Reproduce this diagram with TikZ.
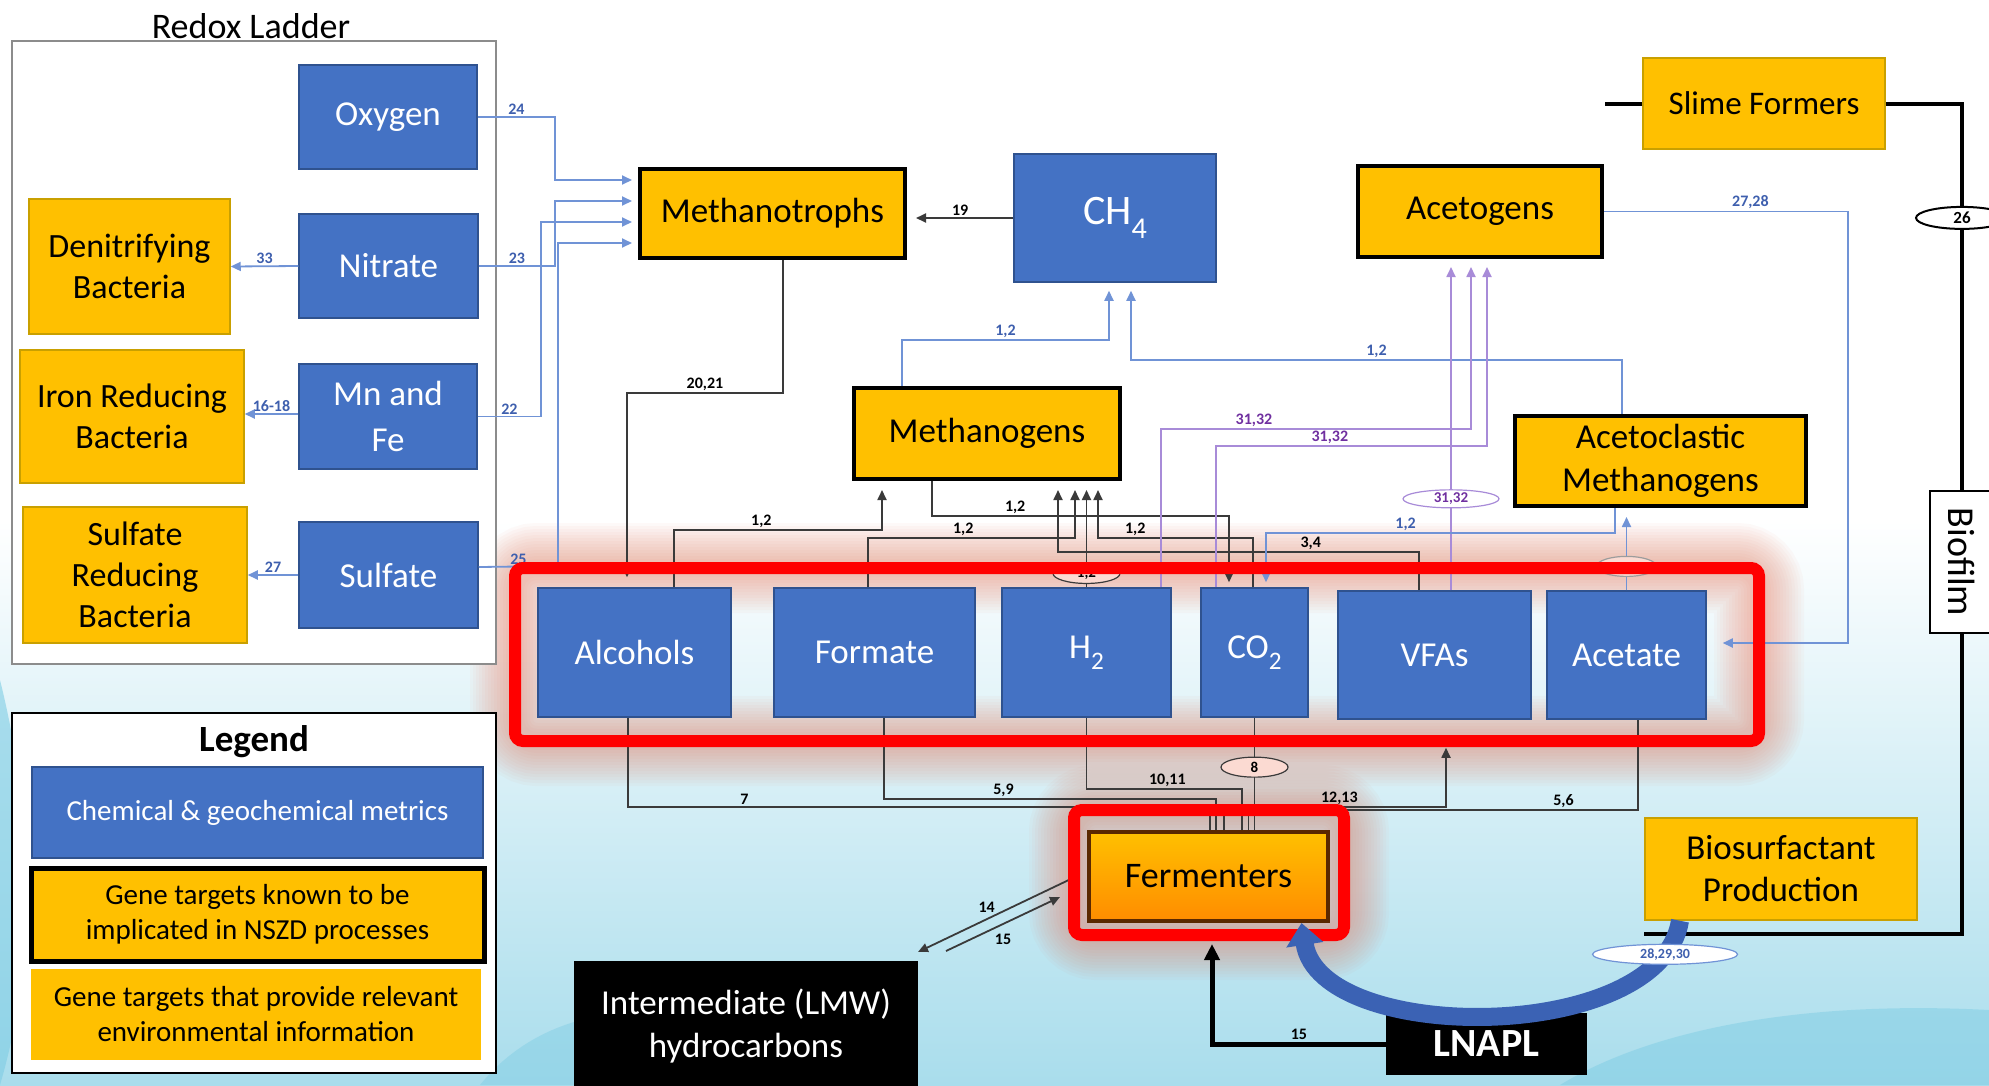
\documentclass[tikz,border=0pt]{standalone}
\usepackage{fontspec}
\setmainfont{Carlito}
\usepackage{graphicx}
\usepackage{xcolor}
\usepackage{tikz}
\usetikzlibrary{arrows.meta, positioning}
\usetikzlibrary{shapes.geometric}

\definecolor{chemblue}{HTML}{4472C4}
\definecolor{chemedge}{HTML}{2F528F}
\definecolor{geneyellow}{HTML}{FFC000}
\definecolor{infoedge}{HTML}{C9A000}
\definecolor{lineblue}{HTML}{7093D6}
\definecolor{labelblue}{HTML}{3E5FAE}
\definecolor{linepurple}{HTML}{A88BD8}
\definecolor{labelpurple}{HTML}{7030A0}
\definecolor{lineblack}{HTML}{3A3A3A}
\definecolor{glowred}{HTML}{EE6A4A}
\definecolor{bandblue}{HTML}{3B62B4}
\definecolor{seablue}{HTML}{A9DDEC}
\definecolor{wavecyan}{HTML}{7FCDE4}
\definecolor{fermedge}{HTML}{5A2800}

\newcommand{\chemsub}[1]{\raisebox{-0.32em}{\scalebox{0.72}{#1}}}

\tikzset{
  chem/.style={rectangle, fill=chemblue, draw=chemedge, line width=1.5, text=white, inner sep=0, align=center, font=\fontsize{35}{46}\selectfont},
  gene/.style={rectangle, fill=geneyellow, draw=black, line width=4, inner sep=0, align=center, font=\fontsize{35}{43}\selectfont},
  info/.style={rectangle, fill=geneyellow, draw=infoedge, line width=1.5, inner sep=0, align=center, font=\fontsize{34}{41}\selectfont},
  fermbox/.style={rectangle, top color=geneyellow, bottom color=orange!90!yellow, draw=fermedge, line width=4, inner sep=0, font=\fontsize{36}{43}\selectfont},
  blackbox/.style={rectangle, fill=black, text=white, inner sep=0, align=center, font=\fontsize{35}{43}\selectfont},
  bfbox/.style={rectangle, fill=white, draw=black, line width=2, inner sep=0, font=\fontsize{38}{40}\selectfont},
  bline/.style={draw=lineblue, line width=1.8},
  pline/.style={draw=linepurple, line width=1.8},
  kline/.style={draw=lineblack, line width=1.8},
  kthick/.style={draw=black, line width=4},
  num/.style={font=\bfseries\fontsize{16}{16}\selectfont, inner sep=1.5},
  numb/.style={num, text=labelblue},
  nump/.style={num, text=labelpurple},
  tagk/.style={ellipse, draw=lineblack, fill=white, line width=1.2, inner sep=0, minimum width=67, minimum height=20, font=\bfseries\fontsize{15}{15}\selectfont},
  tagp/.style={tagk, draw=linepurple, text=labelpurple, minimum width=96, minimum height=18},
  tagb/.style={tagk, draw=lineblue, text=labelblue, minimum width=145, minimum height=20, font=\bfseries\fontsize{14}{14}\selectfont},
  glow/.style={draw=glowred, rounded corners=22},
  redframe/.style={draw=red, line width=12, rounded corners=8},
}

\begin{document}
\begin{tikzpicture}[x=1pt, y=-1pt, >={Triangle[length=10,width=9]}]
    \useasboundingbox (0,0) rectangle (1989,1085);
    % background and waves
    \fill[white] (0,0) rectangle (1989,1085);
    \shade[top color=white, bottom color=seablue] (0,520) rectangle (1989,1085);
    \fill[wavecyan, opacity=0.6] (0,680) .. controls (30,800) and (40,950) .. (0,1085) -- cycle;
    \fill[wavecyan, opacity=0.45] (480,1085) .. controls (540,1010) and (650,990) .. (760,1040) -- (760,1085) -- cycle;
    \fill[wavecyan, opacity=0.5] (1560,1085) .. controls (1650,1030) and (1800,1000) .. (1989,1010) -- (1989,1085) -- cycle;

    % halo round the highlighted groups
    \foreach \glw in {18,24,...,90} {
        \draw[glow, line width=\glw, opacity=0.035] (515,568) rectangle (1759,741);
        \draw[glow, line width=\glw, opacity=0.035] (1074,810) rectangle (1344,935);
    }

    % redox ladder
    \node[font=\fontsize{36}{40}\selectfont] (redoxtitle) at (251,26) {Redox Ladder};
    \draw[draw=black!45, line width=2.5, fill=white] (12,41) rectangle (496,664);
    \node[chem, minimum width=178, minimum height=104] (oxy) at (388,117) {Oxygen};
    \node[chem, minimum width=179, minimum height=104] (nit) at (388.5,266) {Nitrate};
    \node[chem, minimum width=178, minimum height=105] (mnfe) at (388,416.5) {Mn and\\Fe};
    \node[chem, minimum width=179, minimum height=106] (sulf) at (388.5,575) {Sulfate};
    \node[info, minimum width=201, minimum height=135] (deni) at (129.5,266.5) {Denitrifying\\Bacteria};
    \node[info, minimum width=224, minimum height=133] (iron) at (132,416.5) {Iron Reducing\\Bacteria};
    \node[info, minimum width=224, minimum height=136] (srb) at (135,575) {Sulfate\\Reducing\\Bacteria};

    % legend
    \draw[draw=black, line width=2.5, fill=white] (12,713) rectangle (496,1073);
    \node[font=\bfseries\fontsize{37}{40}\selectfont] (legtitle) at (254,742) {Legend};
    \node[chem, minimum width=451, minimum height=91, font=\fontsize{29}{35}\selectfont] (legchem) at (257.5,812.5) {Chemical \& geochemical metrics};
    \node[gene, line width=5, minimum width=453, minimum height=93, font=\fontsize{29}{35}\selectfont] (leggene) at (257.5,914.5) {Gene targets known to be\\implicated in NSZD processes};
    \node[info, draw=none, minimum width=450, minimum height=91, font=\fontsize{29}{35}\selectfont] (leginfo) at (256,1014.5) {Gene targets that provide relevant\\environmental information};

    % organisms and gases
    \node[gene, minimum width=265, minimum height=89] (mtroph) at (772.5,213.5) {Methanotrophs};
    \node[chem, minimum width=202, minimum height=128, font=\fontsize{42}{46}\selectfont] (ch4) at (1115,218) {CH\chemsub{4}};
    \node[gene, minimum width=244, minimum height=91] (acg) at (1480,211.5) {Acetogens};
    \node[info, minimum width=242, minimum height=91, font=\fontsize{33}{40}\selectfont] (sf) at (1764,103.5) {Slime Formers};
    \node[gene, minimum width=266, minimum height=91] (mgen) at (987,433.5) {Methanogens};
    \node[gene, minimum width=291, minimum height=90] (am) at (1660.5,461) {Acetoclastic\\Methanogens};
    \node[bfbox, minimum width=64, minimum height=142] (bfilm) at (1962,562) {\rotatebox{-90}{Biofilm}};

    % intermediates
    \node[chem, minimum width=193, minimum height=129] (alc) at (634.5,652.5) {Alcohols};
    \node[chem, minimum width=201, minimum height=129] (form) at (874.5,652.5) {Formate};
    \node[chem, minimum width=169, minimum height=129] (h2) at (1086.5,652.5) {H\chemsub{2}};
    \node[chem, minimum width=107, minimum height=129] (co2) at (1254.5,652.5) {CO\chemsub{2}};
    \node[chem, minimum width=193, minimum height=128] (vfa) at (1434.5,655) {VFAs};
    \node[chem, minimum width=159, minimum height=128] (acet) at (1626.5,655) {Acetate};

    \node[fermbox, minimum width=239, minimum height=89] (ferm) at (1208.5,876.5) {Fermenters};
    \node[info, minimum width=272, minimum height=102, font=\fontsize{35}{42}\selectfont] (bios) at (1781,869) {Biosurfactant\\Production};
    \node[blackbox, minimum width=344, minimum height=130] (lmw) at (746,1026) {Intermediate (LMW)\\hydrocarbons};
    \node[blackbox, minimum width=201, minimum height=62, font=\bfseries\fontsize{40}{44}\selectfont] (lnapl) at (1486.5,1044) {LNAPL};

    \coordinate (sfleft) at (1605,103.5);
    \coordinate (fermout) at (1075,877);
    \coordinate (lmwin) at (918,952);
    \coordinate (lmwout) at (946,951);
    \coordinate (fermin) at (1060,897);

    % electron acceptors to methanotrophs
    \draw[bline, ->, shorten >=6] (oxy.east) -- node[numb, above]{24} (555,117) |- ([yshift=33.5]mtroph.west);
    \draw[bline, ->, shorten >=6] (nit.east) -- node[numb, above]{23} (555,266) |- ([yshift=12.5]mtroph.west);
    \draw[bline, ->, shorten >=6] (mnfe.east) -- node[numb, above]{22} (541,416.5) |- ([yshift=-8.5]mtroph.west);
    \draw[bline, ->, shorten >=6] ([yshift=8]sulf.east) -- node[numb, above]{25} (558,566) |- ([yshift=-29.5]mtroph.west);
    \draw[bline, ->] (nit.west) -- node[numb, above]{33} (deni.east);
    \draw[bline, ->] (mnfe.west |- 0,414) -- node[numb, above]{16-18} (iron.east |- 0,414);
    \draw[bline, ->] (sulf.west) -- node[numb, above]{27} (srb.east);

    % methane
    \draw[kline, ->, shorten >=9] (ch4.west) -- node[num, above]{19} (ch4.west -| mtroph.east);
    \draw[kline, ->, shorten >=10] ([xshift=10.5]mtroph.south) -- (783,393) -- node[num, above]{20,21} (627,393) -- ([xshift=-7.5]alc.north);
    \draw[bline, ->, shorten >=8] ([xshift=-85]mgen.north) |- node[numb, above, pos=0.75]{1,2} (1109,340) -- ([xshift=-6]ch4.south);
    \draw[bline, ->, shorten >=8] ([xshift=-38.5]am.north) |- node[numb, above, pos=0.75]{1,2} (1131,360) -- ([xshift=16]ch4.south);

    % to methanogens
    \draw[kline, ->, shorten >=9] ([xshift=39.5]alc.north) |- node[num, above, pos=0.71]{1,2} (882,530) -- ([xshift=-105]mgen.south);
    \draw[kline, ->, shorten >=5] ([xshift=-55]mgen.south) |- node[num, above, pos=0.64]{1,2} (1229,516) -- ([xshift=-25.5]co2.north);
    \draw[kline, ->, shorten >=9] ([xshift=-6.5]form.north) |- node[num, above, pos=0.73]{1,2} (1075,538) -- ([xshift=88]mgen.south);
    \draw[kline, ->, shorten >=9] ([xshift=-15.5]vfa.north) |- node[num, above, pos=0.65]{3,4} (1058,552) -- ([xshift=71]mgen.south);
    \draw[kline, ->, shorten >=9] (h2.north) -- node[tagk, fill=glowred!25, pos=0.13]{1,2} (h2.north |- mgen.south);
    \draw[kline, ->, shorten >=9] ([xshift=-1.5]co2.north) |- node[num, above, pos=0.88]{1,2} (1098,538) -- ([xshift=111]mgen.south);

    % acetogens
    \draw[pline, ->, shorten >=8] ([xshift=74.5]h2.north) |- node[nump, above, pos=0.65]{31,32} (1471,429) -- ([xshift=-9]acg.south);
    \draw[pline, ->, shorten >=8] ([xshift=-38.5]co2.north) |- node[nump, above, pos=0.71]{31,32} (1487,446) -- ([xshift=7]acg.south);
    \draw[pline, ->, shorten >=8] ([xshift=16.5]vfa.north) -- node[tagp, pos=0.276]{31,32} ([xshift=-29]acg.south);
    \draw[bline, ->, shorten >=16] (acg.east) -- node[numb, above, pos=0.6]{27,28} (1848,211.5) |- ([yshift=12]acet.east);

    % acetoclastic methanogens
    \draw[bline, ->, shorten >=5] ([xshift=-45.5]am.south) |- node[numb, above, pos=0.8]{1,2} (1266,533) -- ([xshift=11.5]co2.north);
    \draw[bline, ->, shorten >=9] (acet.north) -- node[tagk, draw=lineblack!50, fill=glowred!25, minimum width=60, pos=0.29]{} (acet.north |- am.south);

    % fermenters
    \draw[kline] ([xshift=-6.5]alc.south) |- node[num, above, pos=0.6]{7} (1210,807) -- ([xshift=1.5]ferm.north);
    \draw[kline] ([xshift=9.5]form.south) |- node[num, above, pos=0.68]{5,9} (1216,799) -- ([xshift=7.5]ferm.north);
    \draw[kline] (h2.south) |- node[num, above, pos=0.76]{10,11} (1242,789) -- ([xshift=33.5]ferm.north);
    \draw[kline] (co2.south) -- node[tagk, fill=glowred!25, pos=0.44]{8} (co2.south |- ferm.north);
    \draw[kline, ->, shorten >=28] ([xshift=40]ferm.north) |- node[num, above, pos=0.73]{12,13} (1446,807) -- ([xshift=11.5]vfa.south);
    \draw[kline] ([xshift=15.5]ferm.north) |- node[num, above, pos=0.91]{5,6} (1638,810) -- ([xshift=11.5]acet.south);
    \draw[kline, ->] (fermout) -- node[num, above left=-1pt]{14} (lmwin);
    \draw[kline, ->] (lmwout) -- node[num, below=8pt]{15} (fermin);
    \draw[kthick, line width=5, -{Triangle[length=16,width=15]}, shorten >=21] (lnapl.west) -| node[num, above, pos=0.25]{15} ([xshift=3.5]ferm.south);

    % biofilm
    \draw[kthick] (sf.west) -- (sfleft);
    \draw[kthick] (sf.east) -| node[tagk, draw=black, line width=2, minimum width=92, minimum height=22, font=\bfseries\fontsize{17}{17}\selectfont, pos=0.648]{26} (bfilm.north);
    \draw[kthick] (bfilm.south) |- ([yshift=-13]bios.south west);

    % highlight frames
    \draw[redframe] (515,568) rectangle (1759,741);
    \draw[redframe] (1074,810) rectangle (1344,935);

    % biosurfactant band
    \draw[draw=bandblue, line width=18, -{Triangle[length=22,width=36]}] ([xshift=-101]bios.south) .. controls (1660,1045) and (1320,1045) .. node[tagb, pos=0.1]{28,29,30} ([xshift=93]ferm.south);
\end{tikzpicture}
\end{document}
